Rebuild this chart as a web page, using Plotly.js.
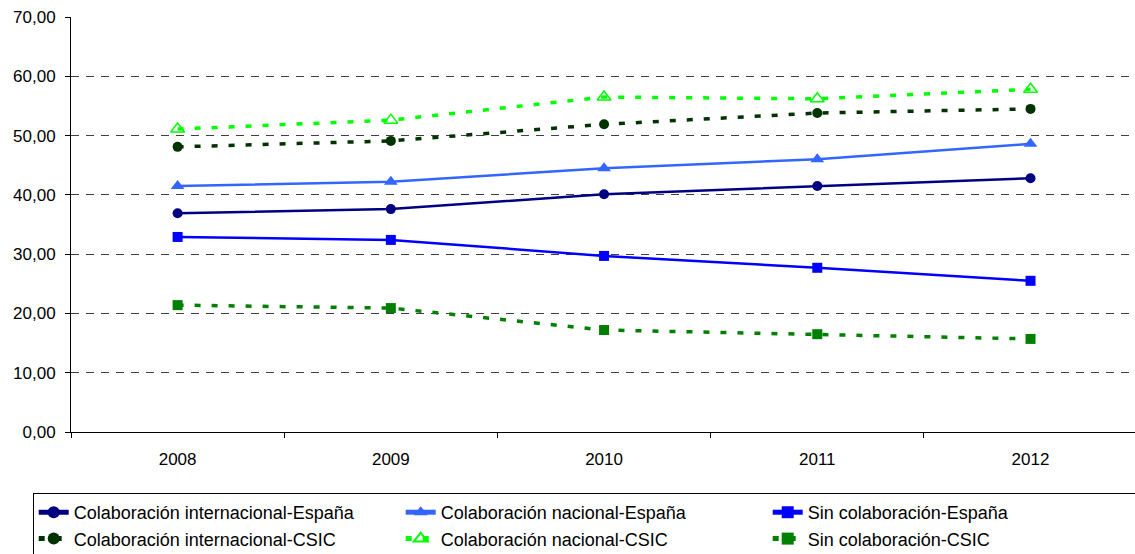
<!DOCTYPE html>
<html><head><meta charset="utf-8">
<script src="https://cdn.plot.ly/plotly-3.0.1.min.js"></script>
<style>html,body{margin:0;padding:0;background:#fff}#c{width:1135px;height:554px}</style>
</head><body><div id="c"></div>
<script>
const years = ['2008','2009','2010','2011','2012'];
const intEsp = [36.9, 37.6, 40.1, 41.5, 42.8];
const nacEsp = [41.5, 42.2, 44.5, 46.0, 48.6];
const sinEsp = [32.9, 32.4, 29.7, 27.7, 25.5];
const intCsic = [48.1, 49.1, 51.9, 53.8, 54.5];
const nacCsic = [51.1, 52.6, 56.5, 56.2, 57.8];
const sinCsic = [21.4, 20.9, 17.2, 16.5, 15.7];
const names = ['Colaboración internacional-España','Colaboración nacional-España','Sin colaboración-España',
  'Colaboración internacional-CSIC','Colaboración nacional-CSIC','Sin colaboración-CSIC'];

function tr(y, name, color, dash, symbol, size, lw){
  return {x: years, y: y, name: name, type:'scatter', mode:'lines+markers',
    line:{color: color, width: lw, dash: dash},
    marker:{symbol: symbol, size: size, color: color, line:{color: color, width: symbol.indexOf('open')>=0?1.5:0}}};
}
const dsh = '6px,11px';
const data = [
  tr(intEsp, names[0], '#000080', 'solid', 'circle', 10, 2.5),
  tr(nacEsp, names[1], '#3366FF', 'solid', 'triangle-up', 12, 2.5),
  tr(sinEsp, names[2], '#0000FF', 'solid', 'square', 10, 2.5),
  tr(intCsic, names[3], '#003300', dsh, 'circle', 10, 3.5),
  tr(nacCsic, names[4], '#00FF00', dsh, 'triangle-up-open', 12, 3.5),
  tr(sinCsic, names[5], '#008000', dsh, 'square', 10, 3.5)
];
const layout = {
  width:1135, height:554,
  margin:{l:71, r:0, t:17, b:122, autoexpand:false},
  paper_bgcolor:'#fff', plot_bgcolor:'#fff',
  font:{family:'Liberation Sans, Arial, sans-serif', size:17, color:'#000'},
  showlegend:true,
  legend:{orientation:'h', x:-0.036, xanchor:'left', y:-0.147, yanchor:'top',
    entrywidth:322, entrywidthmode:'pixels', bordercolor:'#000', borderwidth:1,
    font:{size:18}, tracegroupgap:0, itemsizing:'constant'},
  xaxis:{type:'category', range:[-0.5, 4.49], showgrid:false, showline:true, linecolor:'#000', linewidth:1,
    ticks:'outside', ticklen:5, tickcolor:'#000', tickson:'boundaries', zeroline:false, fixedrange:true,
    ticklabelstandoff:12},
  yaxis:{range:[0,70], dtick:10, tickformat:'.2f', showline:true, linecolor:'#000', linewidth:1,
    ticks:'outside', ticklen:5, tickcolor:'#000', showgrid:true, gridcolor:'#404040', griddash:'8px,7px', gridwidth:1,
    zeroline:false, fixedrange:true, ticklabelstandoff:6},
  separators:',.'
};
Plotly.newPlot('c', data, layout, {staticPlot:true});
</script></body></html>
